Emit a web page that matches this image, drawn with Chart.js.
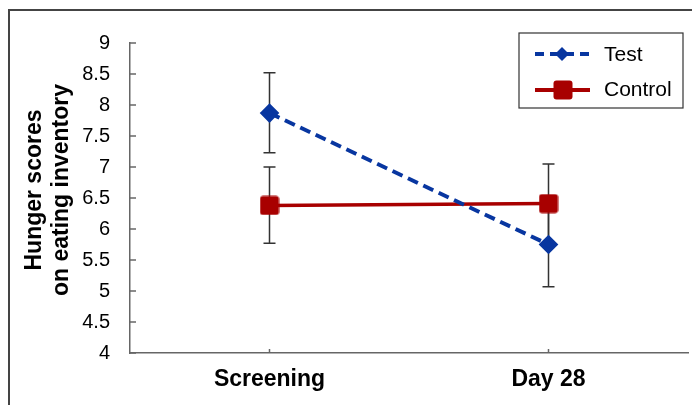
<!DOCTYPE html>
<html>
<head>
<meta charset="utf-8">
<script src="https://cdn.jsdelivr.net/npm/chart.js@4.4.0/dist/chart.umd.min.js"></script>
<style>
    body { margin: 0; background: #fff; overflow: hidden; }
    #wrap { position: relative; width: 692px; height: 405px; }
    #frame { position: absolute; left: 8px; top: 9px; width: 800px; height: 500px;
             border-top: 2px solid #444; border-left: 2px solid #444; }
    canvas { position: absolute; left: 0; top: 0; }
</style>
</head>
<body>
<div id="wrap">
    <div id="frame"></div>
    <canvas id="chart" width="692" height="405"></canvas>
</div>
<script>
const categories = ['Screening', 'Day 28'];
const testValues = [7.87, 5.75];
const testLow = [7.23, 5.07];
const testHigh = [8.52, 6.43];
const controlValues = [6.38, 6.41];
const controlLow = [5.77, 5.76];
const controlHigh = [7.0, 7.05];
const yTitle = ['Hunger scores', 'on eating inventory'];

const blue = '#0836a0';
const red = '#a80000';
const font = '"Liberation Sans", Arial, sans-serif';

function roundedSquare(size, color) {
    const c = document.createElement('canvas');
    c.width = size; c.height = size;
    const g = c.getContext('2d');
    g.fillStyle = color;
    g.beginPath();
    g.roundRect(0.5, 0.5, size - 1, size - 1, 3);
    g.fill();
    return c;
}
const squareMarker = roundedSquare(20, red);

const errorBars = {
    id: 'errorBars',
    beforeDatasetsDraw(chart) {
        const ctx = chart.ctx;
        const x = chart.scales.x, y = chart.scales.y;
        ctx.save();
        ctx.strokeStyle = '#333';
        ctx.lineWidth = 1.5;
        const sets = [[testLow, testHigh], [controlLow, controlHigh]];
        sets.forEach(([lo, hi]) => {
            categories.forEach((c, i) => {
                const px = x.getPixelForValue(i);
                const y1 = y.getPixelForValue(lo[i]);
                const y2 = y.getPixelForValue(hi[i]);
                ctx.beginPath();
                ctx.moveTo(px, y1); ctx.lineTo(px, y2);
                ctx.moveTo(px - 6, y1); ctx.lineTo(px + 6, y1);
                ctx.moveTo(px - 6, y2); ctx.lineTo(px + 6, y2);
                ctx.stroke();
            });
        });
        ctx.restore();
    }
};

const axesDecor = {
    id: 'axesDecor',
    afterDraw(chart) {
        const ctx = chart.ctx;
        const x = chart.scales.x, y = chart.scales.y;
        const area = chart.chartArea;
        ctx.save();
        ctx.strokeStyle = '#666';
        ctx.lineWidth = 1.5;
        // ticks point inwards
        y.ticks.forEach((t, i) => {
            const py = y.getPixelForTick(i);
            ctx.beginPath();
            ctx.moveTo(area.left, py); ctx.lineTo(area.left + 6, py);
            ctx.stroke();
        });
        categories.forEach((c, i) => {
            const px = x.getPixelForValue(i);
            ctx.beginPath();
            ctx.moveTo(px, area.bottom); ctx.lineTo(px, area.bottom - 4);
            ctx.stroke();
        });
        // y title, two lines
        ctx.fillStyle = '#000';
        ctx.font = 'bold 23px ' + font;
        ctx.textAlign = 'center';
        ctx.textBaseline = 'middle';
        ctx.translate(0, 190);
        ctx.rotate(-Math.PI / 2);
        ctx.fillText(yTitle[0], 0, 35);
        ctx.fillText(yTitle[1], 0, 62);
        ctx.restore();

        // legend box
        ctx.save();
        ctx.strokeStyle = '#333';
        ctx.lineWidth = 1.2;
        ctx.strokeRect(519, 33, 164, 75);
        ctx.font = '21px ' + font;
        ctx.fillStyle = '#000';
        ctx.textBaseline = 'middle';
        ctx.strokeStyle = blue;
        ctx.lineWidth = 4;
        ctx.setLineDash([9, 6]);
        ctx.beginPath(); ctx.moveTo(535, 54); ctx.lineTo(590, 54); ctx.stroke();
        ctx.setLineDash([]);
        ctx.fillStyle = blue;
        ctx.beginPath();
        ctx.moveTo(562, 47); ctx.lineTo(569, 54); ctx.lineTo(562, 61); ctx.lineTo(555, 54);
        ctx.closePath(); ctx.fill();
        ctx.fillStyle = '#000';
        ctx.fillText('Test', 604, 55);
        ctx.strokeStyle = red;
        ctx.lineWidth = 4;
        ctx.beginPath(); ctx.moveTo(535, 90); ctx.lineTo(590, 90); ctx.stroke();
        ctx.drawImage(squareMarker, 553, 80);
        ctx.fillText('Control', 604, 90);
        ctx.restore();
    }
};

new Chart(document.getElementById('chart'), {
    type: 'line',
    data: {
        labels: categories,
        datasets: [
            {
                label: 'Control',
                data: controlValues,
                borderColor: red,
                borderWidth: 3.5,
                pointStyle: squareMarker,
                pointRadius: 10,
                order: 2
            },
            {
                label: 'Test',
                data: testValues,
                borderColor: blue,
                backgroundColor: blue,
                borderWidth: 4,
                borderDash: [11, 6],
                pointStyle: 'rectRot',
                pointRadius: 7,
                order: 1
            }
        ]
    },
    plugins: [errorBars, axesDecor],
    options: {
        responsive: false,
        animation: false,
        layout: { autoPadding: false, padding: { top: 43, right: 4, left: 0, bottom: 0 } },
        plugins: { legend: { display: false }, tooltip: { enabled: false } },
        scales: {
            x: {
                offset: true,
                grid: { display: false, drawTicks: false },
                border: { color: '#666', width: 1.5 },
                ticks: {
                    color: '#000',
                    padding: 13,
                    font: { family: font, size: 23, weight: 'bold' }
                },
                afterFit(scale) { scale.height = 52; }
            },
            y: {
                min: 4,
                max: 9,
                grid: { display: false, drawTicks: false },
                border: { color: '#666', width: 1.5 },
                ticks: {
                    stepSize: 0.5,
                    color: '#000',
                    padding: 20,
                    font: { family: font, size: 20 },
                    callback: v => String(v)
                },
                afterFit(scale) { scale.width = 130; }
            }
        }
    }
});
</script>
</body>
</html>
